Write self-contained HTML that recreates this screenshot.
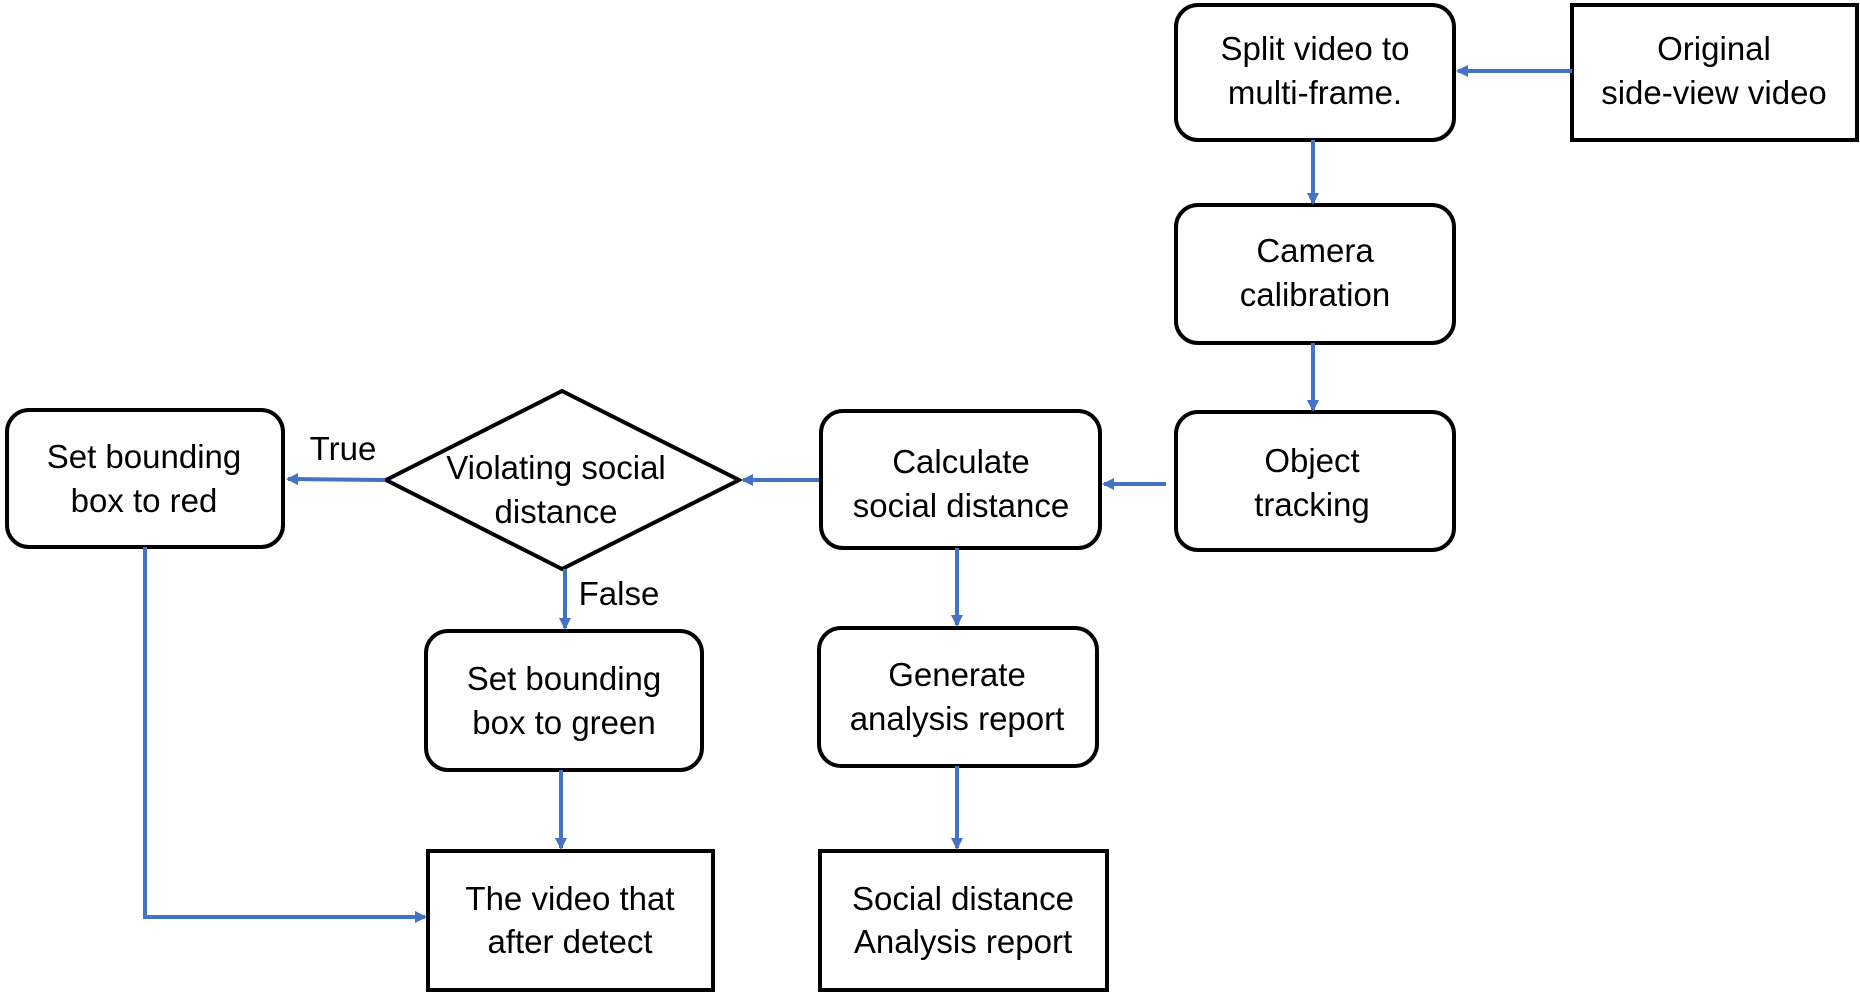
<!DOCTYPE html>
<html><head><meta charset="utf-8"><style>
html,body{margin:0;padding:0;background:#fff;width:1860px;height:993px;overflow:hidden}
text{font-family:"Liberation Sans",sans-serif;font-size:33px;fill:#000;text-anchor:middle}
</style></head><body>
<svg width="1860" height="993" viewBox="0 0 1860 993" xmlns="http://www.w3.org/2000/svg">
<defs><marker id="a" markerWidth="12" markerHeight="12" refX="10" refY="6" orient="auto" markerUnits="userSpaceOnUse"><path d="M0,0 L12,6 L0,12 z" fill="#4472C4"/></marker></defs>
<g fill="#fff" stroke="#000" stroke-width="4">
<rect x="1176" y="5" width="278" height="135" rx="22"/>
<rect x="1572" y="5" width="285" height="135"/>
<rect x="1176" y="205" width="278" height="138" rx="22"/>
<rect x="1176" y="412" width="278" height="138" rx="22"/>
<rect x="821" y="411" width="279" height="137" rx="22"/>
<polygon points="386,480 562,391 739,480 562,569"/>
<rect x="7" y="410" width="276" height="137" rx="22"/>
<rect x="426" y="631" width="276" height="139" rx="22"/>
<rect x="819" y="628" width="278" height="138" rx="22"/>
<rect x="428" y="851" width="285" height="139"/>
<rect x="820" y="851" width="287" height="139"/>
</g>
<g stroke="#4472C4" stroke-width="4" fill="none" marker-end="url(#a)">
<line x1="1572" y1="71" x2="1458" y2="71"/>
<line x1="1313" y1="140" x2="1313" y2="203"/>
<line x1="1313" y1="343" x2="1313" y2="410"/>
<line x1="1166" y1="484" x2="1104" y2="484"/>
<line x1="819" y1="480" x2="743" y2="480"/>
<line x1="385" y1="480" x2="288" y2="479"/>
<line x1="565" y1="569" x2="565" y2="628"/>
<line x1="957" y1="548" x2="957" y2="625"/>
<line x1="561" y1="770" x2="561" y2="848"/>
<line x1="957" y1="766" x2="957" y2="848"/>
<polyline points="145,547 145,917 425,917"/>
</g>
<text x="1315" y="60">Split video to</text><text x="1315" y="104">multi-frame.</text>
<text x="1714" y="60">Original</text><text x="1714" y="104">side-view video</text>
<text x="1315" y="262">Camera</text><text x="1315" y="306">calibration</text>
<text x="1312" y="472">Object</text><text x="1312" y="516">tracking</text>
<text x="961" y="473">Calculate</text><text x="961" y="517">social distance</text>
<text x="556" y="479">Violating social</text><text x="556" y="523">distance</text>
<text x="144" y="468">Set bounding</text><text x="144" y="512">box to red</text>
<text x="564" y="690">Set bounding</text><text x="564" y="734">box to green</text>
<text x="957" y="686">Generate</text><text x="957" y="730">analysis report</text>
<text x="570" y="910">The video that</text><text x="570" y="953">after detect</text>
<text x="963" y="910">Social distance</text><text x="963" y="953">Analysis report</text>
<text x="343" y="460">True</text>
<text x="619" y="605">False</text>
</svg>
</body></html>
